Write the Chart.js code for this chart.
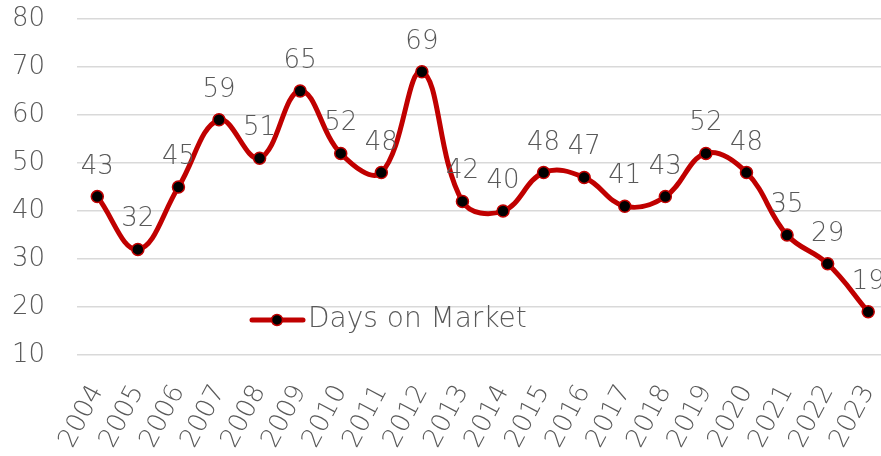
<!doctype html>
<html lang="en">
<head>
<meta charset="UTF-8">
<title>Days on Market</title>
<script src="https://cdn.jsdelivr.net/npm/chart.js"></script>
<style>
  html, body { margin: 0; padding: 0; background: #fff; overflow: hidden; }
  #wrap { width: 896px; height: 456px; }
</style>
</head>
<body>
<div id="wrap"><canvas id="domChart"></canvas></div>
<script>
const years = ['2004','2005','2006','2007','2008','2009','2010','2011','2012','2013',
               '2014','2015','2016','2017','2018','2019','2020','2021','2022','2023'];
const daysOnMarket = [43, 32, 45, 59, 51, 65, 52, 48, 69, 42, 40, 48, 47, 41, 43, 52, 48, 35, 29, 19];
const seriesName = 'Days on Market';

const textColor = '#595959';
const lineColor = '#C00000';
const fontFamily = '"DejaVu Sans", sans-serif';
const fontWeight = '200';

// value labels above each point
const pointLabels = {
    id: 'pointLabels',
    afterDatasetsDraw(chart) {
        const ctx = chart.ctx;
        const meta = chart.getDatasetMeta(0);
        ctx.save();
        ctx.font = fontWeight + ' 26px ' + fontFamily;
        ctx.fillStyle = textColor;
        ctx.textAlign = 'center';
        ctx.textBaseline = 'alphabetic';
        meta.data.forEach((pt, i) => {
            ctx.fillText(String(chart.data.datasets[0].data[i]), pt.x, pt.y - 23);
        });
        ctx.restore();
    }
};

// legend placed inside the plot, like the original
const innerLegend = {
    id: 'innerLegend',
    afterDatasetsDraw(chart) {
        const ctx = chart.ctx;
        const x = 252;
        const y = chart.scales.y.getPixelForValue(17.3);
        ctx.save();
        ctx.strokeStyle = lineColor;
        ctx.lineWidth = 5;
        ctx.lineCap = 'round';
        ctx.beginPath();
        ctx.moveTo(x, y);
        ctx.lineTo(x + 51, y);
        ctx.stroke();
        ctx.beginPath();
        ctx.arc(x + 25, y, 5.5, 0, Math.PI * 2);
        ctx.fillStyle = '#000';
        ctx.fill();
        ctx.lineWidth = 1.5;
        ctx.stroke();
        ctx.font = fontWeight + ' 28px ' + fontFamily;
        ctx.fillStyle = textColor;
        ctx.textAlign = 'left';
        ctx.textBaseline = 'middle';
        ctx.fillText(chart.data.datasets[0].label, x + 56, y);
        ctx.restore();
    }
};

new Chart(document.getElementById('domChart'), {
    type: 'line',
    data: {
        labels: years,
        datasets: [{
            label: seriesName,
            data: daysOnMarket,
            borderColor: lineColor,
            borderWidth: 5,
            tension: 0.4,
            pointRadius: 6,
            pointBackgroundColor: '#000',
            pointBorderColor: lineColor,
            pointBorderWidth: 1.5,
            fill: false
        }]
    },
    options: {
        responsive: true,
        maintainAspectRatio: false,
        animation: false,
        layout: { padding: { top: 19, right: 2, left: 0, bottom: 0 } },
        plugins: {
            legend: { display: false },
            tooltip: { enabled: false }
        },
        scales: {
            x: {
                offset: true,
                grid: { display: false },
                border: { display: false },
                afterFit(scale) {
                    scale.height = 101;
                    scale.paddingLeft = 0;
                    scale.paddingRight = 0;
                },
                ticks: {
                    color: textColor,
                    font: { family: fontFamily, size: 26, weight: fontWeight },
                    minRotation: 62,
                    maxRotation: 62,
                    padding: 17
                }
            },
            y: {
                min: 10,
                max: 80,
                afterFit(scale) {
                    scale.width = 77;
                    scale.paddingTop = 0;
                    scale.paddingBottom = 0;
                },
                grid: { color: '#d9d9d9', lineWidth: 1.5, drawTicks: false },
                border: { display: false },
                ticks: {
                    stepSize: 10,
                    color: textColor,
                    font: { family: fontFamily, size: 26, weight: fontWeight },
                    padding: 32
                }
            }
        }
    },
    plugins: [pointLabels, innerLegend]
});
</script>
</body>
</html>
